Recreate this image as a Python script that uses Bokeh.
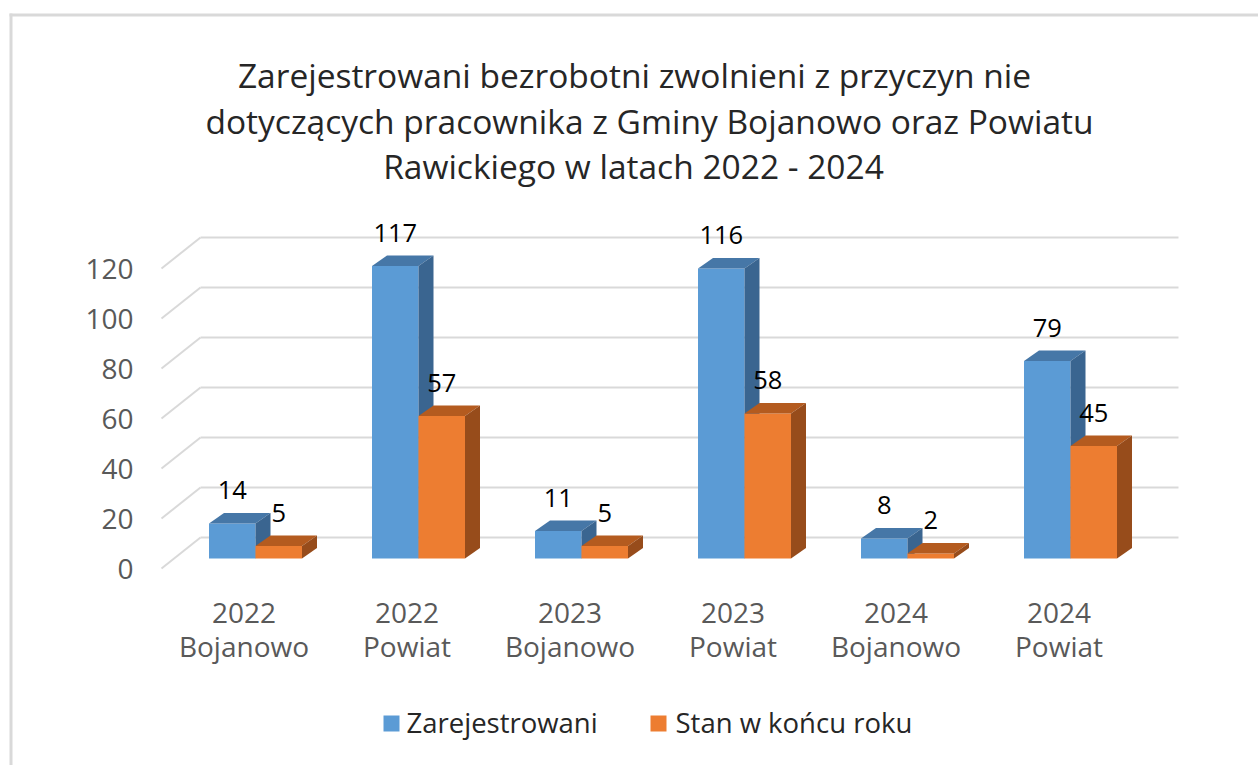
from bokeh.plotting import figure
from bokeh.models import Range1d
from bokeh.embed import file_html
from bokeh.resources import INLINE
from bokeh.core.properties import value

# ---------------- data ----------------
cat_year = ["2022", "2022", "2023", "2023", "2024", "2024"]
cat_place = ["Bojanowo", "Powiat", "Bojanowo", "Powiat", "Bojanowo", "Powiat"]
zarejestrowani = [14, 117, 11, 116, 8, 79]
stan_koniec = [5, 57, 5, 58, 2, 45]
y_ticks = [0, 20, 40, 60, 80, 100, 120]
series_names = ["Zarejestrowani", "Stan w końcu roku"]
title_lines = [
    "Zarejestrowani bezrobotni zwolnieni z przyczyn nie",
    "dotyczących pracownika z Gminy Bojanowo oraz Powiatu",
    "Rawickiego w latach 2022 - 2024",
]

# ---------------- layout helpers (page px -> data) ----------------
W, H = 1258, 765
M = 0
CX0, STEP = 255.0, 163.0      # px of first category centre, px per category
Y0, PPU = 558.0, 2.5          # px of value 0 at bar plane, px per unit


def X(px):
    return (px - CX0) / STEP


def Y(py):
    return (Y0 - py) / PPU


p = figure(width=W, height=H, output_backend="svg", toolbar_location=None,
           x_range=Range1d(X(M), X(M + W)), y_range=Range1d(Y(M + H), Y(M)),
           min_border=0)
p.axis.visible = False
p.grid.visible = False
p.outline_line_color = None
p.background_fill_color = "white"
p.border_fill_color = "white"

TICK_FONT = value("Open Sans")
TITLE_FONT = value("Open Sans")
GRID = "#d9d9d9"

# chart frame border (Excel chart area)
p.segment(x0=[X(9)], y0=[Y(14.5)], x1=[X(M + W)], y1=[Y(14.5)],
          line_color="#d9d9d9", line_width=3)
p.segment(x0=[X(10.5)], y0=[Y(13)], x1=[X(10.5)], y1=[Y(M + H)],
          line_color="#d9d9d9", line_width=3)

# ---------------- walls / gridlines ----------------
back_off = (Y0 - 537.0) / PPU      # back wall offset in value units
front_off = (Y0 - 568.0) / PPU     # front plane offset
xb_left, xb_right, xf_left = X(200), X(1178), X(161)
p.segment(x0=[xb_left] * len(y_ticks), y0=[v + back_off for v in y_ticks],
          x1=[xb_right] * len(y_ticks), y1=[v + back_off for v in y_ticks],
          line_color=GRID, line_width=2)
p.segment(x0=[xf_left] * len(y_ticks), y0=[v + front_off for v in y_ticks],
          x1=[xb_left] * len(y_ticks), y1=[v + back_off for v in y_ticks],
          line_color=GRID, line_width=2)

# y tick labels
p.text(x=[X(133)] * len(y_ticks), y=[v + front_off for v in y_ticks],
       text=[str(v) for v in y_ticks], text_align="right",
       text_baseline="middle", text_font=TICK_FONT, text_font_size="28px",
       text_color="#595959")

# ---------------- 3D bars ----------------
bw = 46.5 / STEP
dx = 15.0 / STEP
dy = 10.5 / PPU
xs_idx = list(range(len(cat_year)))

series = [
    (zarejestrowani, -bw / 2, "#5B9BD5", "#4677A7", "#3A6590"),
    (stan_koniec, bw / 2, "#ED7D31", "#B45B1F", "#974C1B"),
]
for vals, shift, c_front, c_top, c_side in series:
    cx = [i + shift for i in xs_idx]
    p.vbar(x=cx, width=bw, top=vals, bottom=0, fill_color=c_front,
           line_color=None)
    tops_x, tops_y, side_x, side_y = [], [], [], []
    for c, v in zip(cx, vals):
        x0, x1 = c - bw / 2, c + bw / 2
        tops_x.append([x0, x1, x1 + dx, x0 + dx])
        tops_y.append([v, v, v + dy, v + dy])
        side_x.append([x1, x1, x1 + dx, x1 + dx])
        side_y.append([0, v, v + dy, dy])
    p.patches(xs=tops_x, ys=tops_y, fill_color=c_top, line_color=None)
    p.patches(xs=side_x, ys=side_y, fill_color=c_side, line_color=None)
    p.text(x=cx, y=[v + 33.5 / PPU for v in vals], text=[str(v) for v in vals],
           text_align="center", text_baseline="alphabetic",
           text_font=TICK_FONT, text_font_size="25.5px", text_color="#000000")

# category labels
lab_x = [i - 11.5 / STEP for i in xs_idx]
p.text(x=lab_x, y=[Y(612)] * len(lab_x), text=cat_year, text_align="center",
       text_baseline="middle", text_font=TICK_FONT, text_font_size="28px",
       text_color="#595959")
p.text(x=lab_x, y=[Y(645)] * len(lab_x), text=cat_place, text_align="center",
       text_baseline="middle", text_font=TICK_FONT, text_font_size="28px",
       text_color="#595959")

# ---------------- title ----------------
p.text(x=[X(634), X(649), X(633)], y=[Y(74), Y(120), Y(165)],
       text=title_lines, text_align="center", text_baseline="middle",
       text_font=TITLE_FONT, text_font_size="33.5px", text_color="#262626")

# ---------------- legend ----------------
p.scatter(x=[X(391), X(658)], y=[Y(723), Y(723)], marker="square", size=16,
          fill_color=["#5B9BD5", "#ED7D31"], line_color=None)
p.text(x=[X(406), X(675)], y=[Y(722), Y(722)], text=series_names,
       text_align="left", text_baseline="middle", text_font=TITLE_FONT,
       text_font_size="27.5px", text_color="#262626")

open("out.html", "w").write(file_html(p, INLINE))
